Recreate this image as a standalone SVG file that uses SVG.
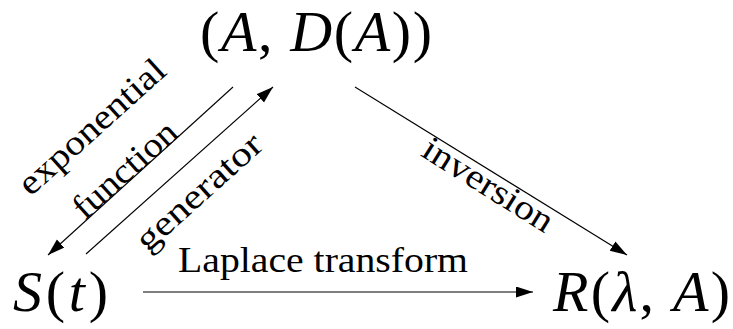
<svg xmlns="http://www.w3.org/2000/svg" width="733" height="329" viewBox="0 0 733 329">
<style>
.m{font-size:58px;fill:#000}
.i{font-style:italic}
.l{font-size:35px;fill:#000}
.c{stroke:#000;stroke-width:1.1;fill:none;marker-end:url(#ah)}
</style>
<defs>
<marker id="ah" markerUnits="userSpaceOnUse" markerWidth="18" markerHeight="12" refX="17" refY="5.5" orient="auto">
<path d="M0,0 L17,5.5 L0,11 z" fill="#000"/>
</marker>
</defs>
<rect width="733" height="329" fill="#fff"/>
<g font-family="Liberation Serif, Times New Roman, Tinos, DejaVu Serif, serif">
<g id="connectors">
<g id="e-exp">
<path class="c" d="M233,87 L48,255"/>
<text class="l" text-anchor="middle" transform="translate(92,127) rotate(-42)" y="11" textLength="185" lengthAdjust="spacingAndGlyphs">exponential</text>
<text class="l" text-anchor="middle" transform="translate(125,170) rotate(-42)" y="11" textLength="128" lengthAdjust="spacingAndGlyphs">function</text>
</g>
<g id="e-gen">
<path class="c" d="M86,254 L273,87"/>
<text class="l" text-anchor="middle" transform="translate(199,192) rotate(-42)" y="11" textLength="158" lengthAdjust="spacingAndGlyphs">generator</text>
</g>
<g id="e-inv">
<path class="c" d="M355,87 L627,255"/>
<text class="l" text-anchor="middle" transform="translate(488,185) rotate(32)" y="11" textLength="148" lengthAdjust="spacingAndGlyphs">inversion</text>
</g>
<g id="e-lap">
<path class="c" d="M143,292 L533,292"/>
<text class="l" x="178" y="272" textLength="290" lengthAdjust="spacingAndGlyphs">Laplace transform</text>
</g>
</g>
<g id="node-AD">
<text class="m" x="200" y="51" textLength="232" lengthAdjust="spacing">(<tspan class="i">A</tspan>, <tspan class="i">D</tspan>(<tspan class="i">A</tspan>))</text>
</g>
<g id="node-S">
<text class="m" x="13" y="311" textLength="95" lengthAdjust="spacing"><tspan class="i">S</tspan>(<tspan class="i">t</tspan>)</text>
</g>
<g id="node-R">
<text class="m" x="553" y="311" textLength="177" lengthAdjust="spacing"><tspan class="i">R</tspan>(<tspan class="i">λ</tspan>, <tspan class="i">A</tspan>)</text>
</g>
</g>
</svg>
